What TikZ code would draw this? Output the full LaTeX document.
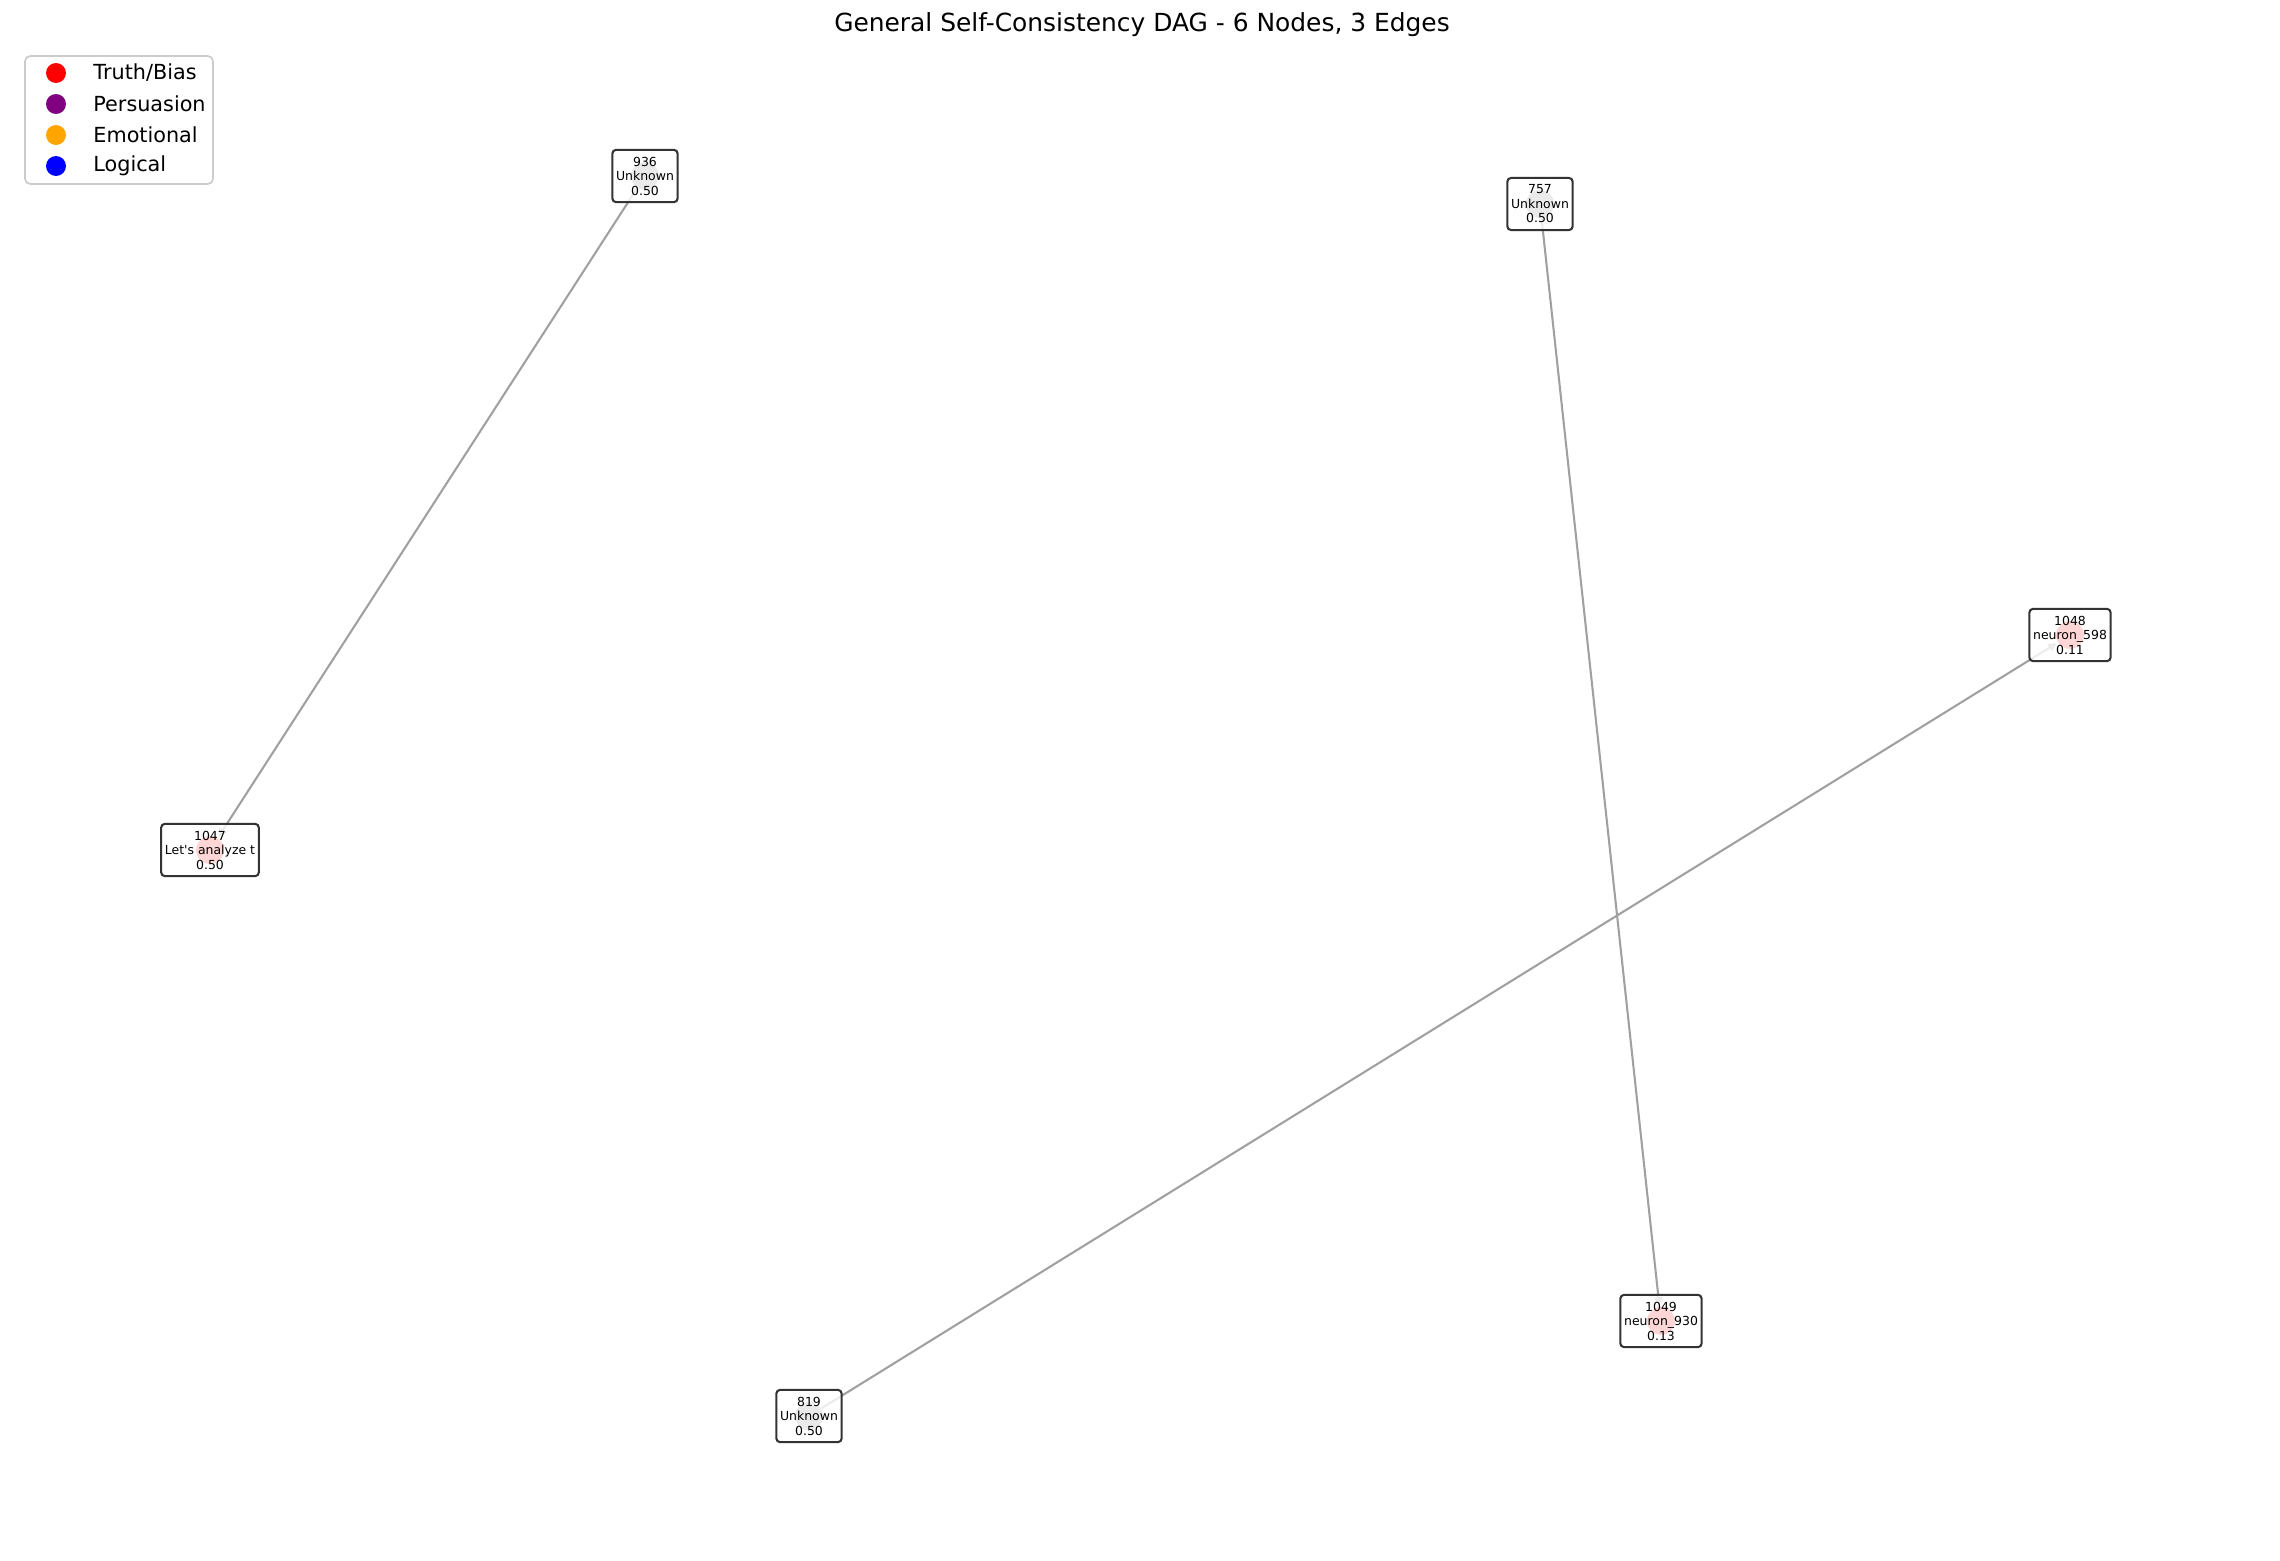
\documentclass[tikz,border=0pt]{standalone}
\usepackage{fontspec}
\setmainfont{DejaVu Sans}
\usetikzlibrary{arrows.meta}
\pgfdeclarelayer{background}
\pgfsetlayers{background,main}
\definecolor{mplorange}{HTML}{FFA500}
\definecolor{mplpurple}{HTML}{800080}
\definecolor{edgegray}{RGB}{160,160,160}
\tikzset{
  box/.style={draw=black!80, line width=1pt, fill=white, fill opacity=0.8, text opacity=1,
    rounded corners=1.8pt, align=center, font=\fontsize{6}{7}\selectfont,
    inner xsep=1.8pt, minimum height=24.5bp},
  edge/.style={draw=edgegray, line width=1pt, -{Triangle[length=4pt,width=4pt]},
    shorten <=7bp, shorten >=7.5bp},
  dot/.style={fill=#1, opacity=0.8},
  legtext/.style={anchor=west, font=\fontsize{10}{12}\selectfont, inner sep=0pt}
}
\begin{document}
\begin{tikzpicture}[x=0.48bp,y=-0.48bp]
\useasboundingbox (0,0) rectangle (2280,1561);

\node[font=\fontsize{12}{14}\selectfont, anchor=base] (title) at (1142,31) {General Self-Consistency DAG - 6 Nodes, 3 Edges};

\node[box] (n936) at (645,176) {936\\Unknown\\0.50};
\node[box] (n757) at (1540,204) {757\\Unknown\\0.50};
\node[box] (n1048) at (2070,635) {1048\\neuron\_598\\0.11};
\node[box] (n1047) at (210,850) {1047\\Let\textquotesingle s analyze t\\0.50};
\node[box] (n1049) at (1661,1321) {1049\\neuron\_930\\0.13};
\node[box] (n819) at (809,1416) {819\\Unknown\\0.50};

\begin{pgfonlayer}{background}
\draw[edge] (n936.center) -- (n1047.center);
\draw[edge] (n757.center) -- (n1049.center);
\draw[edge] (n819.center) -- (n1048.center);
\foreach \n/\c in {936/gray, 757/gray, 819/gray, 1047/red, 1048/red, 1049/red}
  \fill[dot=\c] (n\n.center) circle[radius=6.7bp];
\end{pgfonlayer}

\draw[draw=black!20, line width=0.8pt, fill=white, fill opacity=0.8, rounded corners=2.5bp] (25,56) rectangle (213,184);
\foreach \c/\t [count=\i] in {red/{Truth/Bias}, mplpurple/Persuasion, mplorange/Emotional, blue/Logical} {
  \fill[\c] (56,73+31*\i-31) circle[radius=4.8bp];
  \node[legtext] (leg\i) at (93,73+31*\i-31) {\t};
}
\end{tikzpicture}
\end{document}
